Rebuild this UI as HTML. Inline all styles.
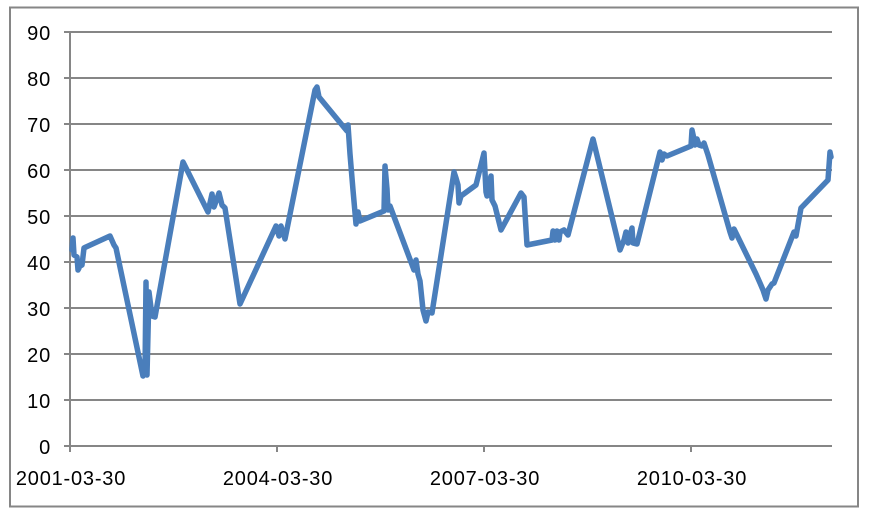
<!DOCTYPE html>
<html><head><meta charset="utf-8"><style>
html,body{margin:0;padding:0;background:#fff}
svg{display:block}
text{font-family:"Liberation Sans",sans-serif;font-size:20px;letter-spacing:0.8px;fill:#000}
</style></head><body>
<svg width="872" height="521" viewBox="0 0 872 521">
<rect x="10" y="7.5" width="848" height="499" fill="#fff" stroke="#868686" stroke-width="2"/>
<g stroke="#868686" stroke-width="2">
<line x1="64" y1="32" x2="832" y2="32"/>
<line x1="64" y1="78" x2="832" y2="78"/>
<line x1="64" y1="124" x2="832" y2="124"/>
<line x1="64" y1="170" x2="832" y2="170"/>
<line x1="64" y1="216" x2="832" y2="216"/>
<line x1="64" y1="262" x2="832" y2="262"/>
<line x1="64" y1="308" x2="832" y2="308"/>
<line x1="64" y1="354" x2="832" y2="354"/>
<line x1="64" y1="400" x2="832" y2="400"/>
<line x1="64" y1="446" x2="832" y2="446"/>
<line x1="70" y1="32" x2="70" y2="452"/>
<line x1="277" y1="446" x2="277" y2="452"/>
<line x1="484" y1="446" x2="484" y2="452"/>
<line x1="691" y1="446" x2="691" y2="452"/>
</g>
<g text-anchor="end">
<text x="51" y="40">90</text><text x="51" y="86">80</text><text x="51" y="132">70</text>
<text x="51" y="178">60</text><text x="51" y="224">50</text><text x="51" y="270">40</text>
<text x="51" y="316">30</text><text x="51" y="362">20</text><text x="51" y="408">10</text>
<text x="51" y="454">0</text>
</g>
<g text-anchor="middle">
<text x="71" y="485">2001-03-30</text><text x="278" y="485">2004-03-30</text>
<text x="485" y="485">2007-03-30</text><text x="692" y="485">2010-03-30</text>
</g>
<polyline fill="none" stroke="#4a7ebb" stroke-width="5.5" stroke-linejoin="round" stroke-linecap="round" points="72,250 73,238 74,255 77,257 78,270 80,266 82,265 84,248 86,247 110,236 114,245 116,248 143,376 145,372 146,282 147,375 149,292 150,300 152,316 155,317 183,162 184,164 208,212 212,194 214,207 219,193 222,205 225,208 240,304 276,226 279,236 281,226 285,239 315,90 317,87 319,97 347,131 348,125 350,154 353,190 356,224 358,212 360,221 384,211 385,166 387,189 388,210 390,206 414,270 416,260 418,274 420,281 423,310 426,321 428,312 432,313 454,172 456,178 458,185 459,203 461,196 476,185 484,153 486,192 487,196 489,184 491,176 492,200 495,206 501,230 521,193 524,197 527,245 552,240 553,231 555,240 557,231 559,240 560,232 564,230 568,235 593,139 620,250 624,240 626,232 628,243 632,228 633,243 637,244 660,152 662,160 664,154 667,156 691,146 692,130 694,139 695,145 697,139 699,145 702,146 704,143 708,155 730,232 732,238 734,229 756,274 760,283 763,290 766,299 768,290 772,284 774,283 794,232 796,236 801,208 828,180 830,152 831,157"/>
</svg>
</body></html>
